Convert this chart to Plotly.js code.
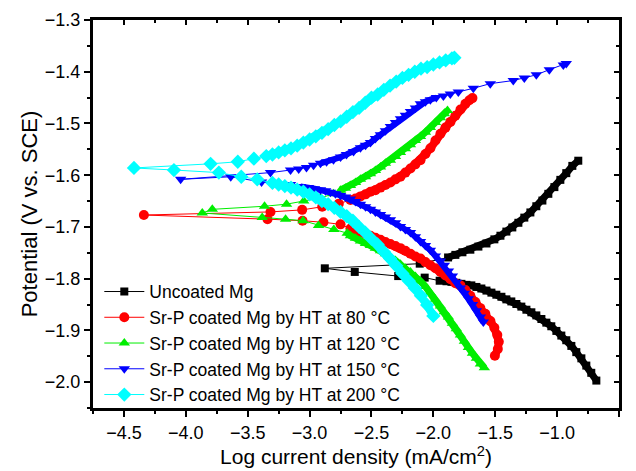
<!DOCTYPE html>
<html>
<head>
<meta charset="utf-8">
<script src="https://cdn.plot.ly/plotly-3.0.1.min.js"></script>
<style>html,body{margin:0;padding:0;background:#fff;}#chart{width:636px;height:471px;}</style>
</head>
<body>
<div id="chart"></div>
<script>
// ---- data (log current density, potential) ----
var seriesNames = ['Uncoated Mg','Sr-P coated Mg by HT at 80 \u00b0C','Sr-P coated Mg by HT at 120 \u00b0C','Sr-P coated Mg by HT at 150 \u00b0C','Sr-P coated Mg by HT at 200 \u00b0C'];

var uncoatedX = [-0.683,-0.724,-0.764,-0.804,-0.845,-0.885,-0.926,-0.966,-1.006,-1.047,-1.087,-1.127,-1.168,-1.208,-1.248,-1.289,-1.329,-1.370,-1.410,-1.450,-1.491,-1.531,-1.571,-1.612,-1.652,-1.693,-1.733,-1.773,-1.814,-1.854,-1.894,-1.949,-2.070,-2.284,-2.635,-2.877,-2.110,-1.881,-1.822,-1.765,-1.701,-1.636,-1.571,-1.507,-1.458,-1.410,-1.362,-1.313,-1.265,-1.216,-1.168,-1.119,-1.071,-1.022,-0.974,-0.926,-0.877,-0.829];
var uncoatedY = [-1.997,-1.982,-1.968,-1.954,-1.942,-1.930,-1.919,-1.910,-1.901,-1.892,-1.885,-1.878,-1.871,-1.865,-1.860,-1.854,-1.849,-1.844,-1.840,-1.835,-1.831,-1.827,-1.823,-1.819,-1.816,-1.813,-1.812,-1.810,-1.808,-1.806,-1.805,-1.804,-1.798,-1.795,-1.787,-1.780,-1.771,-1.759,-1.754,-1.749,-1.744,-1.738,-1.732,-1.724,-1.717,-1.709,-1.701,-1.692,-1.682,-1.672,-1.660,-1.649,-1.636,-1.623,-1.609,-1.596,-1.582,-1.572];

var ht80X = [-1.503,-1.479,-1.471,-1.483,-1.507,-1.539,-1.580,-1.620,-1.660,-1.701,-1.741,-1.781,-1.822,-1.862,-1.902,-1.943,-1.983,-2.024,-2.064,-2.104,-2.145,-2.185,-2.226,-2.266,-2.306,-2.347,-2.387,-2.427,-2.468,-2.508,-2.548,-2.589,-2.629,-2.670,-2.750,-2.888,-3.057,-3.340,-4.339,-3.316,-3.060,-2.898,-2.764,-2.670,-2.629,-2.589,-2.548,-2.508,-2.468,-2.427,-2.387,-2.347,-2.306,-2.266,-2.226,-2.185,-2.145,-2.104,-2.064,-2.024,-1.983,-1.943,-1.902,-1.862,-1.822,-1.781,-1.741,-1.709,-1.684];
var ht80Y = [-1.949,-1.936,-1.922,-1.909,-1.895,-1.882,-1.868,-1.857,-1.845,-1.833,-1.822,-1.813,-1.809,-1.801,-1.794,-1.787,-1.780,-1.774,-1.768,-1.761,-1.757,-1.752,-1.746,-1.741,-1.737,-1.733,-1.729,-1.725,-1.721,-1.717,-1.713,-1.710,-1.707,-1.703,-1.695,-1.691,-1.688,-1.685,-1.677,-1.671,-1.667,-1.661,-1.655,-1.648,-1.645,-1.641,-1.637,-1.632,-1.629,-1.624,-1.619,-1.614,-1.608,-1.603,-1.595,-1.587,-1.579,-1.571,-1.559,-1.548,-1.533,-1.520,-1.508,-1.497,-1.485,-1.473,-1.462,-1.455,-1.451];

var ht120X = [-1.588,-1.620,-1.652,-1.684,-1.717,-1.749,-1.781,-1.814,-1.846,-1.878,-1.911,-1.943,-1.983,-2.024,-2.064,-2.104,-2.145,-2.185,-2.226,-2.266,-2.306,-2.347,-2.387,-2.427,-2.468,-2.508,-2.548,-2.589,-2.629,-2.670,-2.696,-2.804,-2.928,-3.053,-3.194,-3.383,-3.867,-3.786,-3.364,-3.186,-3.047,-2.912,-2.807,-2.750,-2.710,-2.670,-2.629,-2.589,-2.548,-2.508,-2.468,-2.427,-2.387,-2.347,-2.306,-2.266,-2.226,-2.185,-2.145,-2.104,-2.064,-2.024,-1.983,-1.943,-1.911,-1.886];
var ht120Y = [-1.972,-1.965,-1.954,-1.944,-1.933,-1.921,-1.909,-1.897,-1.886,-1.874,-1.864,-1.853,-1.840,-1.827,-1.815,-1.805,-1.796,-1.787,-1.780,-1.772,-1.765,-1.759,-1.752,-1.746,-1.741,-1.736,-1.732,-1.727,-1.722,-1.717,-1.712,-1.705,-1.697,-1.688,-1.685,-1.682,-1.673,-1.666,-1.660,-1.656,-1.650,-1.644,-1.636,-1.629,-1.625,-1.620,-1.614,-1.608,-1.603,-1.597,-1.591,-1.584,-1.577,-1.571,-1.564,-1.556,-1.549,-1.541,-1.533,-1.525,-1.517,-1.508,-1.498,-1.489,-1.481,-1.475];

var ht150X = [-1.596,-1.620,-1.652,-1.684,-1.717,-1.749,-1.781,-1.814,-1.846,-1.878,-1.911,-1.943,-1.983,-2.024,-2.064,-2.104,-2.145,-2.185,-2.226,-2.266,-2.306,-2.347,-2.387,-2.427,-2.468,-2.508,-2.548,-2.589,-2.629,-2.670,-2.710,-2.750,-2.791,-2.831,-2.871,-2.912,-2.960,-3.009,-3.073,-3.154,-3.388,-3.637,-4.042,-3.316,-3.154,-3.088,-3.025,-2.968,-2.912,-2.863,-2.807,-2.750,-2.702,-2.645,-2.589,-2.548,-2.508,-2.468,-2.428,-2.387,-2.347,-2.306,-2.266,-2.226,-2.185,-2.145,-2.105,-2.064,-2.024,-1.976,-1.919,-1.863,-1.798,-1.677,-1.540,-1.354,-1.265,-1.168,-1.063,-0.950,-0.926];
var ht150Y = [-1.884,-1.874,-1.862,-1.850,-1.839,-1.828,-1.818,-1.807,-1.795,-1.785,-1.774,-1.766,-1.756,-1.745,-1.736,-1.728,-1.719,-1.711,-1.705,-1.699,-1.692,-1.686,-1.681,-1.676,-1.671,-1.666,-1.661,-1.656,-1.651,-1.646,-1.642,-1.639,-1.636,-1.633,-1.630,-1.628,-1.626,-1.624,-1.622,-1.618,-1.613,-1.603,-1.608,-1.595,-1.590,-1.588,-1.585,-1.581,-1.577,-1.574,-1.570,-1.565,-1.560,-1.554,-1.547,-1.542,-1.537,-1.529,-1.522,-1.514,-1.506,-1.498,-1.491,-1.484,-1.477,-1.470,-1.462,-1.458,-1.454,-1.450,-1.447,-1.443,-1.439,-1.432,-1.423,-1.417,-1.412,-1.406,-1.396,-1.387,-1.384];

var ht200X = [-2.000,-2.050,-2.100,-2.150,-2.200,-2.250,-2.300,-2.350,-2.400,-2.450,-2.500,-2.550,-2.600,-2.650,-2.700,-2.750,-2.800,-2.850,-2.900,-2.950,-3.000,-3.050,-3.100,-3.150,-3.200,-3.250,-3.300,-3.423,-3.552,-3.733,-4.096,-4.419,-3.800,-3.580,-3.450,-3.350,-3.300,-3.250,-3.200,-3.150,-3.100,-3.050,-3.000,-2.950,-2.900,-2.850,-2.800,-2.750,-2.700,-2.650,-2.600,-2.550,-2.500,-2.450,-2.400,-2.350,-2.300,-2.250,-2.200,-2.150,-2.100,-2.050,-2.000,-1.950,-1.900,-1.850,-1.830];
var ht200Y = [-1.872,-1.851,-1.833,-1.818,-1.804,-1.790,-1.775,-1.761,-1.748,-1.734,-1.723,-1.711,-1.700,-1.688,-1.679,-1.671,-1.663,-1.656,-1.650,-1.643,-1.637,-1.632,-1.628,-1.624,-1.621,-1.618,-1.615,-1.608,-1.603,-1.595,-1.590,-1.586,-1.578,-1.574,-1.568,-1.563,-1.560,-1.556,-1.552,-1.548,-1.543,-1.537,-1.531,-1.525,-1.518,-1.511,-1.503,-1.496,-1.487,-1.478,-1.470,-1.460,-1.450,-1.444,-1.435,-1.427,-1.419,-1.412,-1.406,-1.400,-1.394,-1.391,-1.386,-1.382,-1.378,-1.374,-1.373];

var xTickVals = [-4.5,-4.0,-3.5,-3.0,-2.5,-2.0,-1.5,-1.0,-0.5];
var xTickText = ['\u22124.5','\u22124.0','\u22123.5','\u22123.0','\u22122.5','\u22122.0','\u22121.5','\u22121.0','\u22120.5'];
var yTickVals = [-2.0,-1.9,-1.8,-1.7,-1.6,-1.5,-1.4,-1.3];
var yTickText = ['\u22122.0','\u22121.9','\u22121.8','\u22121.7','\u22121.6','\u22121.5','\u22121.4','\u22121.3'];

// ---- styling ----
var colors = ['#000000','#ff0000','#00ee00','#0000ff','#00ffff'];
var symbols = ['square','circle','triangle-up','triangle-down','diamond'];
var sizes = [8,10,10,10,11];
var bandWidths = [7,8,7,6,8];
// index ranges of each series where the recorded points are closely packed (drawn as a solid band)
var denseRanges = [[[0,30],[37,57]], [[0,33],[44,68]], [[0,30],[43,65]], [[0,38],[48,69]], [[0,24],[35,66]]];
var xs = [uncoatedX, ht80X, ht120X, ht150X, ht200X];
var ys = [uncoatedY, ht80Y, ht120Y, ht150Y, ht200Y];

var traces = [];
for (var i = 0; i < 5; i++) {
  for (var k = 0; k < denseRanges[i].length; k++) {
    var r = denseRanges[i][k];
    traces.push({
      x: xs[i].slice(r[0], r[1] + 1), y: ys[i].slice(r[0], r[1] + 1),
      type: 'scatter', mode: 'lines', showlegend: false, hoverinfo: 'skip',
      line: {color: colors[i], width: bandWidths[i]}
    });
  }
  traces.push({
    x: xs[i], y: ys[i], name: seriesNames[i],
    type: 'scatter', mode: 'lines+markers',
    line: {color: colors[i], width: 1},
    marker: {color: colors[i], symbol: symbols[i], size: sizes[i], line: {width: 0}},
    hoverinfo: 'skip'
  });
}
// empty trace so the mirrored top/right axes get drawn
traces.push({x: [], y: [], xaxis: 'x2', yaxis: 'y2', showlegend: false, hoverinfo: 'skip', type: 'scatter', mode: 'markers'});

var fontFam = 'Liberation Sans, Arial, sans-serif';
var xRange = [-4.75, -0.5];
var yRange = [-2.05, -1.3];

var layout = {
  width: 636, height: 471,
  margin: {l: 93, r: 17, t: 20, b: 63},
  paper_bgcolor: '#ffffff', plot_bgcolor: '#ffffff',
  font: {family: fontFam, color: '#000', size: 17},
  showlegend: true,
  legend: {x: 0.012, y: -0.012, xanchor: 'left', yanchor: 'bottom', bgcolor: 'rgba(0,0,0,0)',
           font: {size: 17.5, family: fontFam, color: '#000'}, itemwidth: 40, tracegroupgap: 0},
  xaxis: {
    range: xRange, tickmode: 'array', tickvals: xTickVals, ticktext: xTickText,
    ticks: 'outside', ticklen: 6, tickwidth: 2, tickcolor: '#000',
    showline: true, linewidth: 3, linecolor: '#000', mirror: false,
    showgrid: false, zeroline: false,
    minor: {ticks: 'outside', ticklen: 3, tickwidth: 2, tickcolor: '#000', dtick: 0.25, tick0: -4.75, showgrid: false},
    tickfont: {size: 18},
    title: {text: 'Log current density (mA/cm<sup>2</sup>)', font: {size: 21}, standoff: 8}
  },
  yaxis: {
    range: yRange, tickmode: 'array', tickvals: yTickVals, ticktext: yTickText,
    ticks: 'outside', ticklen: 6, tickwidth: 2, tickcolor: '#000',
    showline: true, linewidth: 3, linecolor: '#000', mirror: false,
    showgrid: false, zeroline: false,
    minor: {ticks: 'outside', ticklen: 3, tickwidth: 2, tickcolor: '#000', dtick: 0.05, tick0: -2.05, showgrid: false},
    tickfont: {size: 18},
    title: {text: 'Potential (V vs. SCE)', font: {size: 22}, standoff: 2}
  },
  xaxis2: {
    overlaying: 'x', side: 'top', anchor: 'y2', range: xRange,
    tickmode: 'array', tickvals: xTickVals, showticklabels: false,
    ticks: 'inside', ticklen: 5, tickwidth: 2, tickcolor: '#000',
    showline: true, linewidth: 3, linecolor: '#000', showgrid: false, zeroline: false,
    minor: {ticks: 'inside', ticklen: 3, tickwidth: 2, tickcolor: '#000', dtick: 0.25, tick0: -4.75, showgrid: false}
  },
  yaxis2: {
    overlaying: 'y', side: 'right', anchor: 'x2', range: yRange,
    tickmode: 'array', tickvals: yTickVals, showticklabels: false,
    ticks: 'inside', ticklen: 5, tickwidth: 2, tickcolor: '#000',
    showline: true, linewidth: 3, linecolor: '#000', showgrid: false, zeroline: false,
    minor: {ticks: 'inside', ticklen: 3, tickwidth: 2, tickcolor: '#000', dtick: 0.05, tick0: -2.05, showgrid: false}
  }
};

Plotly.newPlot('chart', traces, layout, {displayModeBar: false, staticPlot: true});
</script>
</body>
</html>
